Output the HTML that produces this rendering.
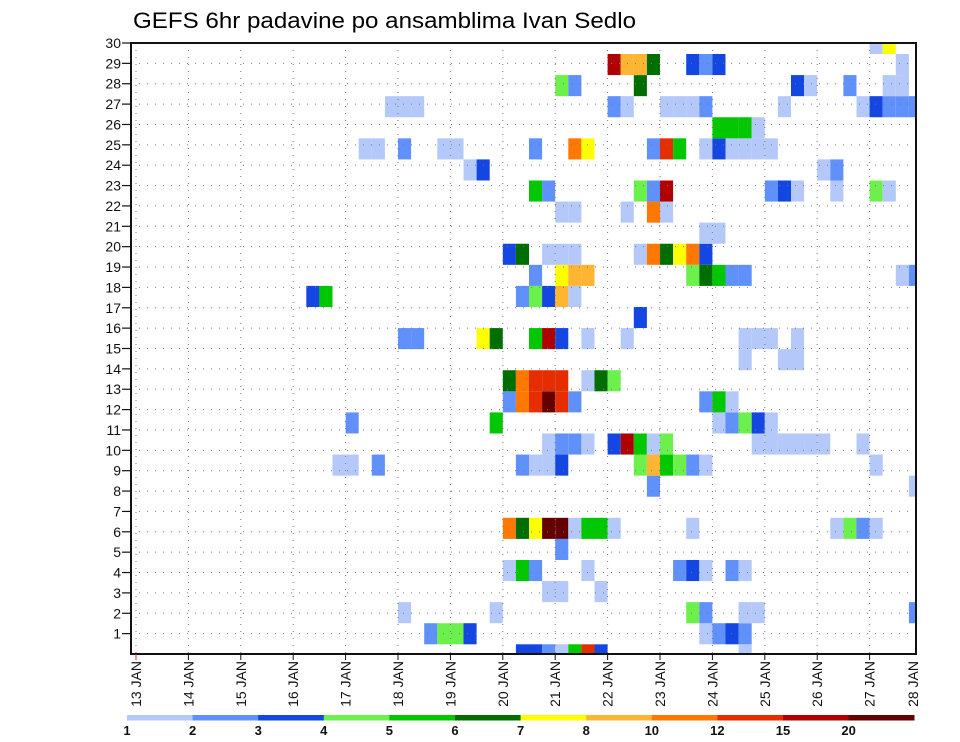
<!DOCTYPE html>
<html><head><meta charset="utf-8"><style>
html,body{margin:0;padding:0;background:#fff;}
svg{display:block;font-family:"Liberation Sans",sans-serif;}
</style></head><body>
<svg id="chart" width="960" height="742" viewBox="0 0 960 742">
<text x="133" y="28" font-size="22" textLength="503" lengthAdjust="spacingAndGlyphs" fill="#000">GEFS 6hr padavine po ansamblima Ivan Sedlo</text>
<g id="cells"></g>
<g id="grid"></g>
<g id="axes"></g>
<g id="legend"></g>
</svg>
<script>
// precipitation levels (mm) and their colors
const levels = [1, 2, 3, 4, 5, 6, 7, 8, 10, 12, 15, 20];
const levelColors = ["#b4c8fa","#6090fa","#1446e1","#6cf04c","#00c800","#006e00","#ffff00","#ffb432","#ff7800","#e62d00","#b00000","#640000"];
const yTickLabels = [1,2,3,4,5,6,7,8,9,10,11,12,13,14,15,16,17,18,19,20,21,22,23,24,25,26,27,28,29,30];
const dayLabels = ["13 JAN","14 JAN","15 JAN","16 JAN","17 JAN","18 JAN","19 JAN","20 JAN","21 JAN","22 JAN","23 JAN","24 JAN","25 JAN","26 JAN","27 JAN","28 JAN"];
// per ensemble member: pairs [6h-step index from 13 JAN 00z, precip mm]
const m0  = [[29,3],[30,3],[31,2],[32,1],[33,5],[34,12],[35,3],[46,1]];
const m1  = [[22,2],[23,4],[24,4],[25,3],[43,1],[44,2],[45,3],[46,2]];
const m2  = [[20,1],[27,1],[42,4],[43,2],[46,1],[47,1],[59,2]];
const m3  = [[31,1],[32,1],[35,1]];
const m4  = [[28,1],[29,5],[30,2],[34,1],[41,2],[42,3],[43,1],[45,2],[46,1]];
const m5  = [[32,2]];
const m6  = [[28,10],[29,6],[30,7],[31,20],[32,20],[33,1],[34,5],[35,5],[36,1],[42,1],[53,1],[54,4],[55,2],[56,1]];
const m7  = [];
const m8  = [[39,2],[59,1]];
const m9  = [[15,1],[16,1],[18,2],[29,2],[30,1],[31,1],[32,3],[38,4],[39,8],[40,5],[41,4],[42,2],[43,1],[56,1]];
const m10 = [[31,1],[32,2],[33,2],[34,1],[36,3],[37,15],[38,5],[39,1],[40,4],[47,1],[48,1],[49,1],[50,1],[51,1],[52,1],[55,1]];
const m11 = [[16,2],[27,5],[44,1],[45,2],[46,4],[47,3],[48,1]];
const m12 = [[28,2],[29,10],[30,12],[31,20],[32,12],[33,2],[43,2],[44,5],[45,1]];
const m13 = [[28,6],[29,10],[30,12],[31,12],[32,12],[34,1],[35,6],[36,4]];
const m14 = [[46,1],[49,1],[50,1]];
const m15 = [[20,2],[21,2],[26,7],[27,6],[30,5],[31,15],[32,3],[34,1],[37,1],[46,1],[47,1],[48,1],[50,1]];
const m16 = [[38,3]];
const m17 = [[13,3],[14,5],[29,2],[30,4],[31,3],[32,8],[33,1]];
const m18 = [[30,2],[32,7],[33,8],[34,8],[42,4],[43,6],[44,5],[45,2],[46,2],[58,1],[59,2]];
const m19 = [[28,3],[29,6],[31,1],[32,1],[33,1],[38,1],[39,10],[40,6],[41,7],[42,10],[43,3]];
const m20 = [[43,1],[44,1]];
const m21 = [[32,1],[33,1],[37,1],[39,10],[40,1]];
const m22 = [[30,5],[31,2],[38,4],[39,2],[40,15],[48,2],[49,3],[50,1],[53,1],[56,4],[57,1]];
const m23 = [[25,1],[26,3],[52,1],[53,2]];
const m24 = [[17,1],[18,1],[20,2],[23,1],[24,1],[30,2],[33,10],[34,7],[39,2],[40,12],[41,5],[43,1],[44,3],[45,1],[46,1],[47,1],[48,1]];
const m25 = [[44,5],[45,5],[46,5],[47,1]];
const m26 = [[19,1],[20,1],[21,1],[36,2],[37,1],[40,1],[41,1],[42,1],[43,2],[49,1],[55,1],[56,3],[57,2],[58,2],[59,2]];
const m27 = [[32,4],[33,2],[38,6],[50,3],[51,1],[54,2],[57,1],[58,1]];
const m28 = [[36,15],[37,8],[38,8],[39,6],[42,3],[43,2],[44,3],[58,1]];
const m29 = [[56,1],[57,7]];
const members = [m0,m1,m2,m3,m4,m5,m6,m7,m8,m9,m10,m11,m12,m13,m14,m15,m16,m17,m18,m19,m20,m21,m22,m23,m24,m25,m26,m27,m28,m29];

const NS = "http://www.w3.org/2000/svg";
const L = 131, R = 916, T = 43, B = 654;
const dayW = 52.4, x0 = 136;
function xStep(s){ return x0 + s * dayW / 4; }
function xDay(d){ return x0 + d * dayW; }
function yLabel(v){ return B - v * (B - T) / 30; }
const cellH = (644.3 - 54) / 28;
function yCellTop(m){ return 644.3 - cellH * m; }
function colorFor(v){ let i = 0; for (let k = 0; k < levels.length; k++) if (v >= levels[k]) i = k; return levelColors[i]; }
function mk(tag, attrs, parent){ const e = document.createElementNS(NS, tag); for (const k in attrs) e.setAttribute(k, attrs[k]); parent.appendChild(e); return e; }

const cellsG = document.getElementById('cells');
members.forEach((arr, m) => {
  arr.forEach(p => {
    let x = xStep(p[0]), w = dayW / 4;
    let y = yCellTop(m), h = cellH;
    let xa = Math.max(x, L), xb = Math.min(x + w, R);
    let ya = Math.max(y, T), yb = Math.min(y + h, B);
    if (xb <= xa || yb <= ya) return;
    const r = mk('rect', {x: xa, y: ya, width: xb - xa, height: yb - ya, fill: colorFor(p[1])}, cellsG);
    
    
  });
});

const gridG = document.getElementById('grid');
for (let v = 1; v < 30; v++) {
  const l = mk('line', {x1: L, x2: R, y1: yLabel(v), y2: yLabel(v), stroke: '#777', 'stroke-width': 1, 'stroke-dasharray': '1 7'}, gridG);
  
  
}
for (let d = 0; d < 15; d++) {
  const l = mk('line', {x1: xDay(d), x2: xDay(d), y1: T, y2: B, stroke: '#777', 'stroke-width': 1, 'stroke-dasharray': '1 6'}, gridG);
  
  
}

const axG = document.getElementById('axes');
const frame = mk('rect', {x: L, y: T, width: R - L, height: B - T, fill: 'none', stroke: '#111', 'stroke-width': 2}, axG);


yTickLabels.forEach(v => {
  const y = yLabel(v);
  const t = mk('line', {x1: 122, x2: L, y1: y, y2: y, stroke: '#111', 'stroke-width': 1.2}, axG);
  
  
  const tx = mk('text', {x: 121, y: y + 5, 'font-size': 14, 'text-anchor': 'end', fill: '#111'}, axG);
  tx.textContent = v;
  
  
});
dayLabels.forEach((lab, d) => {
  let x = xDay(d);
  if (d < 15) {
    const t = mk('line', {x1: x, x2: x, y1: B, y2: B + 6, stroke: d === 0 ? '#c33' : '#111', 'stroke-width': 1}, axG);
    
    
  }
  if (x > 913) x = 913;
  const tx = mk('text', {x: 0, y: 0, 'font-size': 14, 'text-anchor': 'end', fill: '#111', transform: 'translate(' + (x + 5) + ',661) rotate(-90)'}, axG);
  tx.textContent = lab;
  
  
});

const legG = document.getElementById('legend');
const lw = 65.6, lx = 127;
levels.forEach((v, i) => {
  const r = mk('rect', {x: lx + i * lw, y: 715, width: lw + 0.3, height: 5.5, fill: levelColors[i]}, legG);
  
  
  const t = mk('text', {x: lx + i * lw, y: 735, 'font-size': 13, 'font-weight': 'bold', 'text-anchor': 'middle', fill: '#111'}, legG);
  t.textContent = v;
  
  
});
</script>
</body></html>
